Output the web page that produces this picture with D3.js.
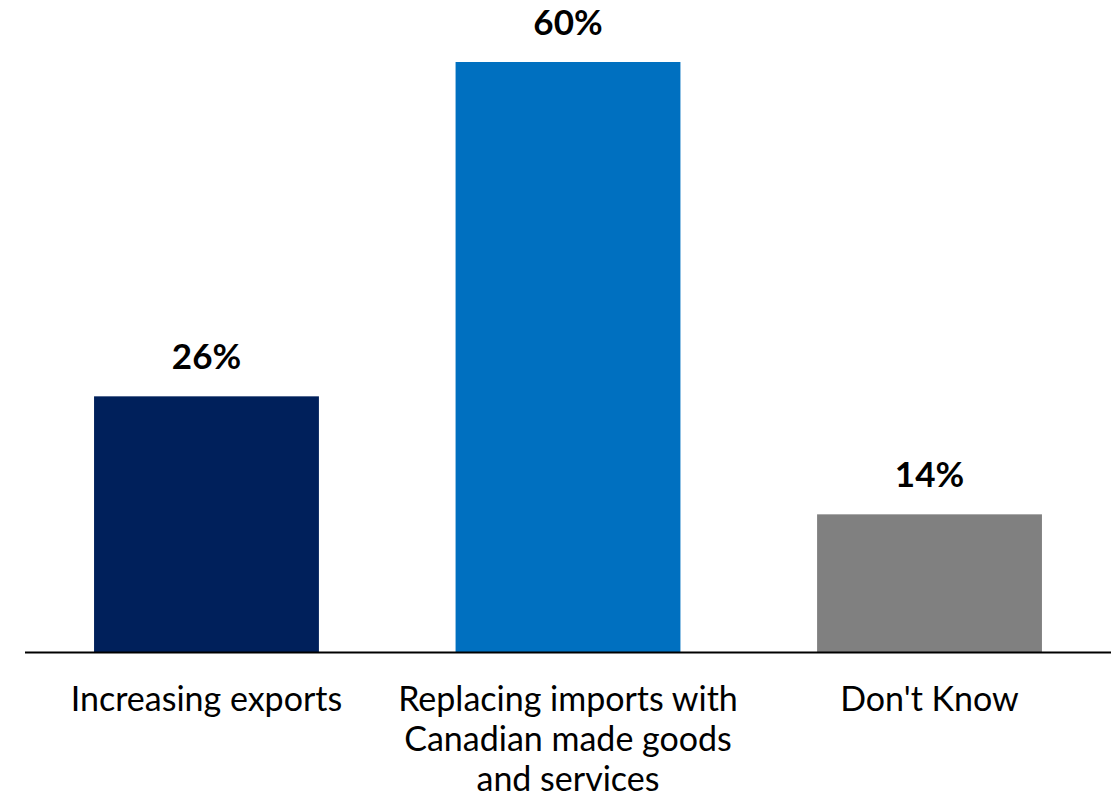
<!DOCTYPE html>
<html><head><meta charset="utf-8">
<script src="https://cdn.jsdelivr.net/npm/d3@7"></script>
<style>body{margin:0;background:#fff}svg{display:block}</style>
</head><body>
<svg id="c" width="1114" height="805"></svg>
<script>
const categories = ["Increasing exports", "Replacing imports with Canadian made goods and services", "Don't Know"];
const labelLines = [["Increasing exports"], ["Replacing imports with", "Canadian made goods", "and services"], ["Don't Know"]];
const values = [26, 60, 14];
const colors = ["#00205B", "#0070C0", "#808080"];

const svg = d3.select("#c");
const font = "Lato, 'Open Sans', sans-serif";
const x = d3.scaleBand().domain(categories).range([25, 1111]).paddingInner(0.378).paddingOuter(0.191);
const y = d3.scaleLinear().domain([0, 60]).range([652, 62]);

svg.selectAll("rect.bar").data(values).join("rect")
  .attr("x", (d,i)=>x(categories[i])).attr("width", x.bandwidth())
  .attr("y", d=>y(d)).attr("height", d=>y(0)-y(d))
  .attr("fill", (d,i)=>colors[i]);

svg.append("line").attr("x1",25).attr("x2",1111).attr("y1",y(0)+0.5).attr("y2",y(0)+0.5)
  .attr("stroke","#000").attr("stroke-width",2);

svg.selectAll("text.val").data(values).join("text")
  .attr("x",(d,i)=>x(categories[i])+x.bandwidth()/2).attr("y",d=>y(d)-27.5)
  .attr("text-anchor","middle").attr("font-family",font).attr("font-weight","bold")
  .attr("font-size",35).text(d=>d+"%");

labelLines.forEach((lines,i)=>{
  const t = svg.append("text").attr("text-anchor","middle").attr("font-family",font)
    .attr("font-size",34).attr("fill","#000");
  lines.forEach((l,j)=>t.append("tspan").attr("x",x(categories[i])+x.bandwidth()/2)
    .attr("y",711+j*40).text(l));
});
</script>
</body></html>
